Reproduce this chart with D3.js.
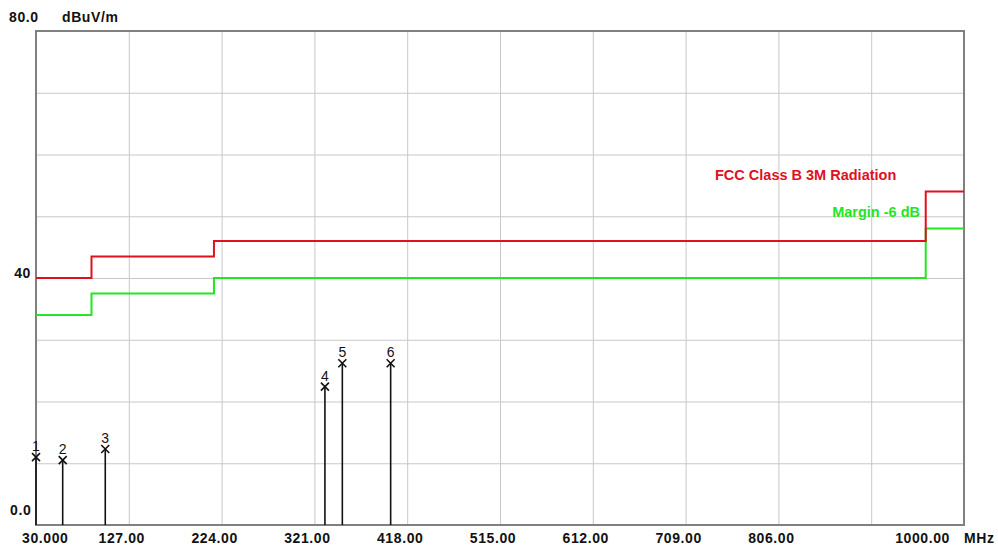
<!DOCTYPE html>
<html><head><meta charset="utf-8">
<script src="https://cdn.jsdelivr.net/npm/d3@7"></script>
<style>
body{margin:0;background:#fff;}
svg{display:block;}
.lbl{font-family:"Liberation Sans",Arial,sans-serif;font-weight:bold;font-size:14px;letter-spacing:0.6px;fill:#111;}
.leg{font-family:"Liberation Sans",Arial,sans-serif;font-weight:bold;font-size:14.5px;}
.mk{font-family:"Liberation Sans",Arial,sans-serif;font-size:14px;fill:#111;}
</style>
</head><body>
<script>
// ---- data ----
const xTickValues = [30,127,224,321,418,515,612,709,806,1000];
const xTickLabels = ["30.000","127.00","224.00","321.00","418.00","515.00","612.00","709.00","806.00","1000.00"];
const xGridValues = [127,224,321,418,515,612,709,806,903];
const yGridValues = [10,20,30,40,50,60,70];
const yTickValues = [0,40,80];
const yTickLabels = ["0.0","40","80.0"];
// FCC Class B 3m limit (step function): [freq start, freq end, level]
const limitSteps = [[30,88,40],[88,216,43.5],[216,960,46],[960,1000,54]];
const marginSteps = [[30,88,34],[88,216,37.5],[216,960,40],[960,1000,48]];
const markerIds = ["1","2","3","4","5","6"];
const markerFreq = [30,57.9,102.4,332,350.2,400.7];
const markerLevel = [11.0,10.5,12.3,22.4,26.2,26.2];

const W=998,H=546;
const L=36,R=964,T=31,B=525;
const x=d3.scaleLinear().domain([30,1000]).range([L,R]);
const y=d3.scaleLinear().domain([0,80]).range([B,T]);

const svg=d3.select("body").append("svg").attr("width",W).attr("height",H);
svg.append("rect").attr("x",L).attr("y",T).attr("width",R-L).attr("height",B-T).attr("fill","#fff");

// grid
const gx=svg.append("g").attr("transform",`translate(0,${B})`)
  .call(d3.axisBottom(x).tickValues(xGridValues).tickSize(-(B-T)).tickFormat(""));
gx.select(".domain").remove();
gx.selectAll("line").attr("stroke","#c8c8c8").attr("stroke-width",1);
const gy=svg.append("g").attr("transform",`translate(${L},0)`)
  .call(d3.axisLeft(y).tickValues(yGridValues).tickSize(-(R-L)).tickFormat(""));
gy.select(".domain").remove();
gy.selectAll("line").attr("stroke","#c8c8c8").attr("stroke-width",1);

// frame
svg.append("rect").attr("x",L).attr("y",T).attr("width",R-L).attr("height",B-T)
  .attr("fill","none").attr("stroke","#808080").attr("stroke-width",2);

// step lines
function stepPts(steps){
  const pts=[];
  steps.forEach(s=>{pts.push([s[0],s[2]]);pts.push([s[1],s[2]]);});
  return pts;
}
const line=d3.line().x(d=>x(d[0])).y(d=>y(d[1]));
svg.append("path").attr("d",line(stepPts(marginSteps))).attr("fill","none").attr("stroke","#22e622").attr("stroke-width",2);
svg.append("path").attr("d",line(stepPts(limitSteps))).attr("fill","none").attr("stroke","#e0101e").attr("stroke-width",2);

// markers
markerFreq.forEach((f,i)=>{
  const mx=x(f), my=y(markerLevel[i]);
  svg.append("line").attr("x1",mx).attr("x2",mx).attr("y1",B).attr("y2",my)
    .attr("stroke","#111").attr("stroke-width",1.6);
  const s=4;
  svg.append("path").attr("d",`M${mx-s},${my-s}L${mx+s},${my+s}M${mx+s},${my-s}L${mx-s},${my+s}`)
    .attr("stroke","#111").attr("stroke-width",1.6).attr("fill","none");
  svg.append("text").attr("class","mk").attr("x",mx).attr("y",my-6)
    .attr("text-anchor","middle").text(markerIds[i]);
});

// x tick labels
xTickValues.forEach((v,i)=>{
  let tx=x(v)-7, anchor="middle";
  if(i===0){tx=x(v)-14;anchor="start";}
  if(i===xTickValues.length-1){tx=x(v)-14;anchor="end";}
  svg.append("text").attr("class","lbl").attr("x",tx).attr("y",543)
    .attr("text-anchor",anchor).text(xTickLabels[i]);
});
svg.append("text").attr("class","lbl").attr("x",964).attr("y",543).text("MHz");

// y tick labels
yTickValues.forEach((v,i)=>{
  const t=svg.append("text").attr("class","lbl").text(yTickLabels[i]);
  if(v===0){t.attr("x",10).attr("y",y(v)-10);}
  else if(v===40){t.attr("x",31).attr("y",y(v)).attr("text-anchor","end");}
  else {t.attr("x",9).attr("y",y(v)-9);}
});
svg.append("text").attr("class","lbl").attr("x",62).attr("y",22).text("dBuV/m");

// legend texts
svg.append("text").attr("class","leg").attr("x",715).attr("y",180).attr("fill","#e0101e").text("FCC Class B 3M Radiation");
svg.append("text").attr("class","leg").attr("x",920).attr("y",217).attr("text-anchor","end").attr("fill","#22e622").text("Margin -6 dB");
</script>
</body></html>
